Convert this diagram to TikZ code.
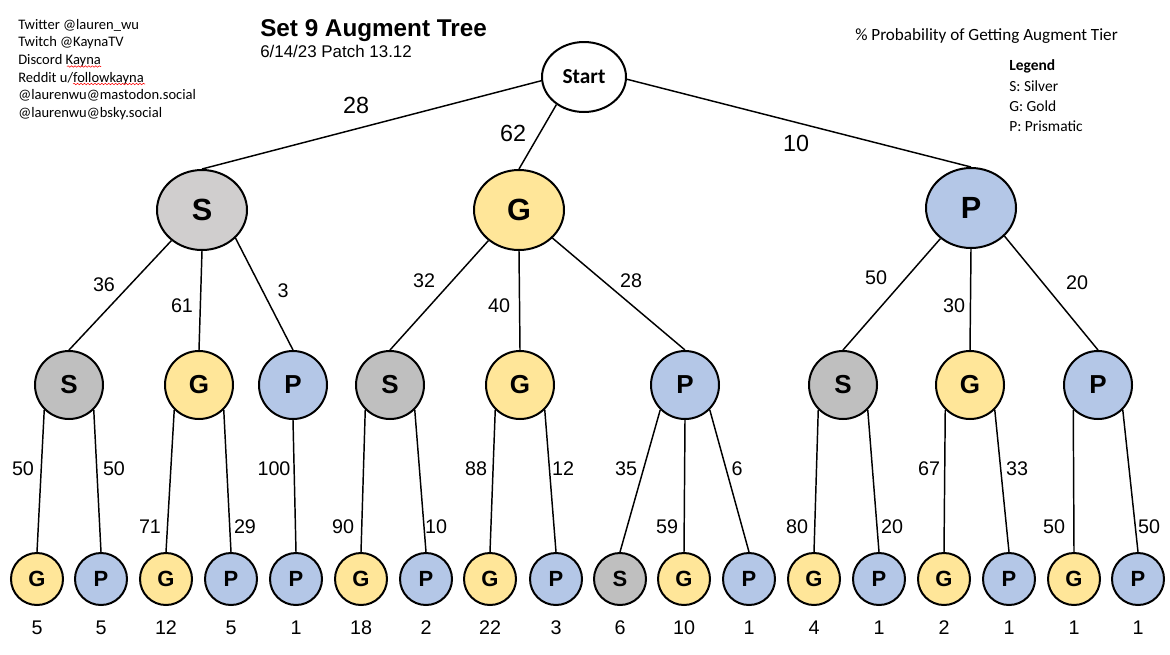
\documentclass[tikz,border=0pt]{standalone}
\usepackage{fontspec}
\setmainfont{Carlito}
\newfontfamily\arialfont{Liberation Sans}
\usetikzlibrary{shapes.geometric,decorations.pathmorphing}
\definecolor{silverA}{HTML}{D0CECE}
\definecolor{silverB}{HTML}{BFBFBF}
\definecolor{goldC}{HTML}{FFE699}
\definecolor{prismC}{HTML}{B4C7E7}
\tikzset{
  tiernode/.style={
    ellipse,
    draw,
    line width=1.5pt,
    inner sep=0pt,
    text=black
  },
  startnode/.style={
    tiernode,
    minimum width=63pt,
    minimum height=52.5pt,
    fill=white,
    font=\bfseries\fontsize{16}{18}\selectfont
  },
  topnode/.style={
    tiernode,
    minimum width=67.5pt,
    minimum height=60pt,
    font=\arialfont\bfseries\fontsize{23}{25}\selectfont
  },
  midnode/.style={
    tiernode,
    minimum size=51pt,
    font=\arialfont\bfseries\fontsize{19.5}{21}\selectfont
  },
  lownode/.style={
    tiernode,
    minimum size=39pt,
    font=\arialfont\bfseries\fontsize{16.5}{18}\selectfont
  },
  link/.style={line width=1.1pt},
  biglabel/.style={font=\arialfont\fontsize{17.5}{19}\selectfont},
  edgelabel/.style={font=\arialfont\fontsize{14.8}{16}\selectfont},
  info/.style={anchor=base west, inner sep=0pt},
  squiggle/.style={red, line width=0.4pt, decorate,
    decoration={snake, amplitude=0.55pt, segment length=2.6pt}}
}

\begin{document}
\begin{tikzpicture}[x=0.75pt,y=-0.75pt]
\useasboundingbox (0,0) rectangle (1170,654);

% Kontakte oben links
\foreach \i/\y/\txt in {1/29.3/{Twitter @lauren\_wu},
                        2/46.9/{Twitch @KaynaTV},
                        3/64.4/{Discord Kayna},
                        4/82/{Reddit u/followkayna},
                        5/99.5/{@laurenwu@mastodon.social},
                        6/117/{@laurenwu@bsky.social}}
  \node[info, font=\fontsize{10.9}{13}\selectfont] (contact\i) at (18,\y) {\txt};
\draw[squiggle] (67,66.5) -- (101,66.5);
\draw[squiggle] (73,84) -- (145,84);

% Titel
\node[info, font=\arialfont\bfseries\fontsize{18.2}{20}\selectfont] (title) at (260,36)
  {Set 9 Augment Tree};
\node[info, font=\arialfont\fontsize{12.7}{14}\selectfont] (patch) at (260,57)
  {6/14/23 Patch 13.12};

% Hinweis und Legende
\node[info, font=\fontsize{12.85}{14}\selectfont] (hint) at (855,40)
  {\% Probability of Getting Augment Tier};
\node[info, font=\bfseries\fontsize{11.6}{13}\selectfont] (legend) at (1009,70) {Legend};
\foreach \i/\y/\txt in {1/91/{S: Silver}, 2/111/{G: Gold}, 3/131.7/{P: Prismatic}}
  \node[info, font=\fontsize{11.6}{13}\selectfont] (legend\i) at (1009,\y) {\txt};

% Wurzel und erste Stufe
\node[startnode] (start) at (584,77) {Start};
\node[topnode, fill=silverA] (s) at (202,210) {S};
\node[topnode, fill=goldC]   (g) at (519,210) {G};
\node[topnode, fill=prismC]  (p) at (971,208) {P};

\draw[link] (start.185) -- (s.north);
\draw[link] (start.225) -- (g.north);
\draw[link] (start.-3) -- (p.north);
\node[biglabel] (lab-s) at (356,105) {28};
\node[biglabel] (lab-g) at (513,133) {62};
\node[biglabel] (lab-p) at (796,143) {10};

% Zweite Stufe
\foreach \nm/\x/\t/\c in {ss/69/S/silverB, sg/199/G/goldC, sp/293/P/prismC,
                          gs/390/S/silverB, gg/520/G/goldC, gp/685/P/prismC,
                          ps/843/S/silverB, pg/970/G/goldC, pp/1098/P/prismC}
  \node[midnode, fill=\c] (\nm) at (\x,385) {\t};

\foreach \a/\ang/\b/\v/\lx/\ly in {s/225/ss/36/104/285, s/-90/sg/61/182/306, s/-40/sp/3/283/291,
                                   g/225/gs/32/424/281, g/-90/gg/40/499/306, g/-40/gp/28/631/281,
                                   p/225/ps/50/876/278, p/-90/pg/30/954/306, p/-40/pp/20/1077/283}
{
  \draw[link] (\a.\ang) -- (\b.north);
  \node[edgelabel] (lab-\b) at (\lx,\ly) {\v};
}

% Dritte Stufe mit Endwerten
\foreach \nm/\x/\t/\c/\v in {ssg/37/G/goldC/5, ssp/101/P/prismC/5,
                             sgg/166/G/goldC/12, sgp/231/P/prismC/5,
                             spp/296/P/prismC/1,
                             gsg/361/G/goldC/18, gsp/426/P/prismC/2,
                             ggg/490/G/goldC/22, ggp/556/P/prismC/3,
                             gps/620/S/silverB/6, gpg/684/G/goldC/10, gpp/749/P/prismC/1,
                             psg/814/G/goldC/4, psp/879/P/prismC/1,
                             pgg/944/G/goldC/2, pgp/1009/P/prismC/1,
                             ppg/1074/G/goldC/1, ppp/1138/P/prismC/1}
{
  \node[lownode, fill=\c] (\nm) at (\x,579) {\t};
  \node[edgelabel] (val-\nm) at (\x,628) {\v};
}

\foreach \a/\ang/\b/\v/\lx/\ly in {ss/-135/ssg/50/23/469, ss/-45/ssp/50/114/469,
                                   sg/-135/sgg/71/150/527, sg/-45/sgp/29/245/527,
                                   sp/-90/spp/100/274/469,
                                   gs/-135/gsg/90/343/527, gs/-45/gsp/10/436/527,
                                   gg/-135/ggg/88/476/469, gg/-45/ggp/12/563/469,
                                   gp/-135/gps/35/626/469, gp/-90/gpg/59/667/527, gp/-45/gpp/6/737/469,
                                   ps/-135/psg/80/797/527, ps/-45/psp/20/892/527,
                                   pg/-135/pgg/67/929/469, pg/-45/pgp/33/1017/469,
                                   pp/-135/ppg/50/1054/527, pp/-45/ppp/50/1149/527}
{
  \draw[link] (\a.\ang) -- (\b.north);
  \node[edgelabel] (lab-\b) at (\lx,\ly) {\v};
}

\end{tikzpicture}
\end{document}
